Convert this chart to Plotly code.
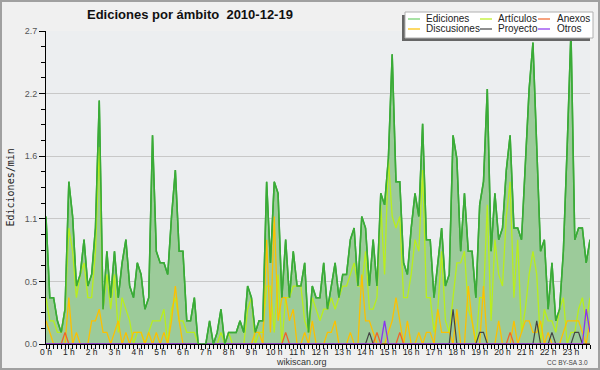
import plotly.graph_objects as go

# ---- data: edits per minute, 10-minute buckets (00:00 .. 23:50) ----
minutos = list(range(0, 1440, 10))

ediciones = [
    1.1, 0.4, 0.4, 0.2, 0.1, 0.3, 1.4, 1.1, 0.5, 0.6, 0.9, 0.5,
    0.6, 1.0, 2.1, 0.3, 0.8, 0.4, 0.8, 0.4, 0.7, 0.9, 0.5, 0.4,
    0.7, 0.6, 0.3, 0.4, 1.8, 0.8, 0.7, 0.7, 0.6, 1.1, 1.5, 0.8,
    0.8, 0.2, 0.2, 0.4, 0.0, 0.0, 0.0, 0.2, 0.0, 0.1, 0.3, 0.0,
    0.1, 0.1, 0.1, 0.2, 0.1, 0.5, 0.4, 0.1, 0.2, 0.2, 1.4, 0.7,
    1.4, 1.3, 0.4, 0.9, 0.4, 0.8, 0.5, 0.5, 0.7, 0.1, 0.5, 0.4,
    0.4, 0.7, 0.3, 0.5, 0.7, 0.4, 0.6, 0.6, 0.9, 1.0, 0.5, 1.1,
    1.0, 0.5, 0.9, 0.5, 1.3, 1.2, 1.6, 2.5, 1.4, 1.4, 0.7, 0.6,
    1.0, 1.3, 1.1, 1.9, 0.9, 0.9, 0.4, 0.7, 1.0, 0.5, 0.6, 1.8,
    1.6, 0.8, 1.3, 0.8, 0.8, 0.4, 1.2, 1.4, 2.2, 0.8, 1.3, 0.9,
    1.0, 1.5, 1.8, 1.0, 1.0, 0.9, 1.6, 2.2, 2.6, 1.7, 0.8, 0.9,
    0.3, 0.7, 0.2, 0.3, 0.8, 1.7, 2.7, 0.9, 1.0, 1.0, 0.7, 0.9,
]

articulos = [
    0.4, 0.2, 0.2, 0.1, 0.1, 0.3, 1.0, 0.8, 0.4, 0.6, 0.7, 0.4,
    0.4, 0.8, 1.7, 0.3, 0.6, 0.3, 0.6, 0.1, 0.4, 0.3, 0.2, 0.0,
    0.1, 0.1, 0.0, 0.1, 0.2, 0.2, 0.2, 0.3, 0.0, 0.3, 0.4, 0.2,
    0.2, 0.1, 0.1, 0.1, 0.0, 0.0, 0.0, 0.0, 0.0, 0.0, 0.1, 0.0,
    0.1, 0.0, 0.0, 0.0, 0.0, 0.3, 0.4, 0.0, 0.1, 0.1, 0.5, 0.5,
    0.1, 0.6, 0.0, 0.4, 0.4, 0.5, 0.5, 0.5, 0.2, 0.1, 0.4, 0.3,
    0.2, 0.3, 0.3, 0.4, 0.3, 0.4, 0.5, 0.5, 0.6, 0.7, 0.5, 0.5,
    0.8, 0.3, 0.3, 0.4, 1.2, 0.6, 1.6, 1.1, 1.0, 1.1, 0.4, 0.4,
    0.6, 0.9, 0.8, 1.5, 0.4, 0.4, 0.1, 0.3, 0.8, 0.2, 0.1, 0.4,
    0.7, 0.7, 0.8, 0.3, 0.2, 0.0, 0.4, 0.4, 1.2, 0.2, 0.9, 0.6,
    0.5, 1.1, 1.4, 0.4, 0.9, 0.1, 0.3, 0.6, 0.8, 0.6, 0.0, 0.3,
    0.2, 0.2, 0.1, 0.3, 0.4, 0.0, 0.1, 0.1, 0.3, 0.4, 0.2, 0.4,
]

discusiones = [
    0.2, 0.1, 0.0, 0.0, 0.0, 0.0, 0.4, 0.0, 0.1, 0.0, 0.0, 0.0,
    0.2, 0.2, 0.3, 0.1, 0.1, 0.0, 0.1, 0.2, 0.0, 0.1, 0.0, 0.1,
    0.1, 0.1, 0.0, 0.1, 0.0, 0.1, 0.0, 0.1, 0.0, 0.2, 0.5, 0.2,
    0.0, 0.0, 0.0, 0.0, 0.0, 0.0, 0.0, 0.0, 0.0, 0.0, 0.0, 0.0,
    0.0, 0.0, 0.0, 0.0, 0.0, 0.0, 0.0, 0.1, 0.1, 0.0, 0.9, 0.1,
    1.1, 0.2, 0.4, 0.4, 0.2, 0.3, 0.0, 0.0, 0.1, 0.0, 0.2, 0.0,
    0.0, 0.0, 0.1, 0.1, 0.2, 0.0, 0.0, 0.0, 0.1, 0.0, 0.0, 0.6,
    0.2, 0.2, 0.1, 0.0, 0.0, 0.0, 0.1, 0.2, 0.4, 0.2, 0.0, 0.2,
    0.0, 0.0, 0.1, 0.0, 0.1, 0.1, 0.0, 0.3, 0.1, 0.1, 0.1, 0.0,
    0.3, 0.0, 0.0, 0.5, 0.2, 0.0, 0.0, 0.5, 0.0, 0.0, 0.0, 0.2,
    0.0, 0.0, 0.0, 0.2, 0.0, 0.1, 0.2, 0.2, 0.1, 0.1, 0.2, 0.0,
    0.1, 0.0, 0.0, 0.0, 0.1, 0.2, 0.2, 0.2, 0.2, 0.1, 0.0, 0.2,
]

anexos = [
    0, 0, 0, 0, 0, 0.1, 0, 0, 0, 0, 0, 0,
    0, 0, 0, 0, 0, 0, 0, 0, 0, 0, 0, 0,
    0, 0, 0, 0, 0, 0, 0, 0, 0, 0, 0, 0,
    0, 0, 0, 0, 0, 0, 0, 0, 0, 0, 0, 0,
    0, 0, 0, 0, 0, 0, 0, 0, 0, 0, 0, 0,
    0, 0, 0, 0.1, 0, 0, 0, 0, 0, 0, 0, 0,
    0, 0, 0, 0, 0, 0, 0, 0, 0, 0, 0, 0,
    0, 0, 0, 0.1, 0, 0, 0, 0, 0, 0.1, 0, 0,
    0, 0, 0, 0, 0, 0, 0, 0, 0, 0, 0, 0,
    0, 0, 0, 0, 0, 0, 0, 0, 0, 0, 0, 0,
    0, 0, 0.1, 0, 0, 0, 0, 0, 0, 0, 0, 0,
    0, 0, 0, 0, 0, 0, 0, 0, 0, 0, 0, 0,
]

proyecto = [
    0, 0, 0, 0, 0, 0, 0, 0, 0, 0, 0, 0,
    0, 0, 0, 0, 0, 0, 0, 0, 0, 0, 0, 0,
    0, 0, 0, 0, 0, 0, 0, 0, 0, 0, 0, 0,
    0, 0, 0, 0, 0, 0, 0, 0, 0, 0, 0, 0,
    0, 0, 0, 0, 0, 0, 0, 0, 0, 0, 0, 0,
    0, 0, 0, 0, 0, 0, 0, 0, 0, 0, 0, 0,
    0, 0, 0, 0, 0, 0, 0, 0, 0, 0, 0, 0,
    0, 0.1, 0, 0, 0, 0, 0, 0, 0, 0, 0, 0,
    0, 0, 0, 0, 0, 0, 0, 0, 0, 0, 0, 0.3,
    0, 0, 0, 0, 0, 0, 0.1, 0.1, 0, 0, 0, 0,
    0, 0, 0, 0, 0, 0, 0, 0, 0, 0.2, 0, 0,
    0, 0.1, 0, 0, 0, 0, 0, 0.1, 0.1, 0, 0, 0,
]

otros = [
    0, 0, 0, 0, 0, 0, 0, 0, 0, 0, 0, 0,
    0, 0, 0, 0, 0, 0, 0, 0, 0, 0, 0, 0,
    0, 0, 0, 0, 0, 0, 0, 0, 0, 0, 0, 0,
    0, 0, 0, 0, 0, 0, 0, 0, 0, 0, 0, 0,
    0, 0, 0, 0, 0, 0, 0, 0, 0, 0, 0, 0,
    0, 0, 0, 0, 0, 0, 0, 0, 0, 0, 0, 0,
    0, 0, 0, 0, 0, 0, 0, 0, 0, 0, 0, 0,
    0, 0, 0, 0, 0, 0.2, 0, 0, 0, 0, 0, 0,
    0, 0, 0, 0, 0, 0, 0, 0, 0, 0, 0, 0,
    0, 0, 0, 0, 0, 0, 0, 0, 0, 0, 0, 0,
    0, 0, 0, 0, 0, 0, 0, 0, 0, 0, 0, 0,
    0, 0, 0, 0, 0, 0, 0, 0, 0, 0, 0.3, 0.1,
]

horas_vals = [h * 60 for h in range(24)]
horas_text = [f"{h} h" for h in range(24)]
y_vals = [0, 0.54, 1.08, 1.62, 2.16, 2.7]
y_text = ["0.0", "0.5", "1.1", "1.6", "2.2", "2.7"]

# name, values, colour, width, legend cell (column, row)
series = [
    ("Artículos", articulos, "#b9ee1c", 1.3, (1, 0)),
    ("Discusiones", discusiones, "#fcc000", 1.3, (0, 1)),
    ("Anexos", anexos, "#f0642a", 1.3, (2, 0)),
    ("Proyecto", proyecto, "#444444", 1.2, (1, 1)),
    ("Otros", otros, "#8a33ee", 1.3, (2, 1)),
]

FONT = "Liberation Sans"
W, H = 600, 370
L, R, T, B = 46, 10, 31, 26
PW, PH = W - L - R, H - T - B


def xp(px):
    return (px - L) / PW


def yp(py):
    return (H - B - py) / PH


fig = go.Figure()
fig.add_trace(go.Scatter(
    x=minutos, y=ediciones, mode="lines", name="Ediciones",
    line=dict(color="#3aab37", width=1.5), fill="tozeroy", fillcolor="#9ccb9a",
))
for name, vals, col, w, _cell in series:
    fig.add_trace(go.Scatter(x=minutos, y=vals, mode="lines", name=name,
                             line=dict(color=col, width=w)))
fig.add_trace(go.Scatter(x=minutos, y=ediciones, mode="lines", showlegend=False,
                         line=dict(color="#3aab37", width=1.5)))

fig.update_layout(
    width=W, height=H, margin=dict(l=L, r=R, t=T, b=B),
    paper_bgcolor="#f0f0f0", plot_bgcolor="#eceef0",
    showlegend=False, font=dict(family=FONT, size=9, color="#333"),
    xaxis=dict(
        range=[0, 1430], tickmode="array", tickvals=horas_vals, ticktext=horas_text,
        ticks="", showline=True, linecolor="black", linewidth=1, showgrid=False, zeroline=False,
        tickfont=dict(family=FONT, size=8.5, color="#222"), ticklabelstandoff=0,
    ),
    # tick marks every 10 minutes (no labels)
    xaxis2=dict(
        range=[0, 1430], overlaying="x", anchor="y", side="bottom",
        tickmode="linear", tick0=0, dtick=10, ticks="outside", ticklen=4,
        tickcolor="black", tickwidth=1, showticklabels=False,
        showline=False, showgrid=False, zeroline=False,
    ),
    yaxis=dict(
        range=[0, 2.7], tickmode="array", tickvals=y_vals, ticktext=y_text,
        ticks="outside", ticklen=6, tickcolor="black", tickwidth=1,
        showline=True, linecolor="black", linewidth=1,
        showgrid=True, gridcolor="#c8c8c8", gridwidth=1, zeroline=False,
        tickfont=dict(family=FONT, size=9, color="#555"),
        minor=dict(dtick=0.135, tick0=0, ticks="outside", ticklen=4, tickcolor="black", showgrid=False),
    ),
)
# invisible trace to activate the tick-only axis
fig.add_trace(go.Scatter(x=[0], y=[0], xaxis="x2", mode="markers",
                         marker=dict(opacity=0), showlegend=False, hoverinfo="skip"))

shapes = []
annotations = []
# outer border
shapes.append(dict(type="rect", xref="paper", yref="paper",
                   x0=xp(1), x1=xp(599), y0=yp(1), y1=yp(369),
                   line=dict(color="#a0a0a0", width=2), layer="above"))
# legend box with shadow
shapes.append(dict(type="rect", xref="paper", yref="paper",
                   x0=xp(402), x1=xp(590), y0=yp(15), y1=yp(41),
                   fillcolor="#666666", line=dict(width=0), layer="above"))
shapes.append(dict(type="rect", xref="paper", yref="paper",
                   x0=xp(405), x1=xp(593), y0=yp(12), y1=yp(38),
                   fillcolor="#ffffff", line=dict(color="#b0b0b0", width=1), layer="above"))

leg_items = [("Ediciones", "#6fcf6a", (0, 0))] + [(n, c, cell) for (n, _v, c, _w, cell) in series]
col_line_x = [408, 480, 538]
col_text_x = [424, 496, 555]
row_y = [19, 29]
for name, col, (ci, ri) in leg_items:
    shapes.append(dict(type="line", xref="paper", yref="paper",
                       x0=xp(col_line_x[ci]), x1=xp(col_line_x[ci] + 12),
                       y0=yp(row_y[ri]), y1=yp(row_y[ri]),
                       line=dict(color=col, width=1.2), layer="above"))
    annotations.append(dict(xref="paper", yref="paper", x=xp(col_text_x[ci]), y=yp(row_y[ri]),
                            text=name, showarrow=False, xanchor="left", yanchor="middle",
                            font=dict(family=FONT, size=10, color="#222")))

annotations += [
    dict(xref="paper", yref="paper", x=xp(85), y=yp(14), text="<b>Ediciones por ámbito  2010-12-19</b>",
         showarrow=False, xanchor="left", yanchor="middle",
         font=dict(family=FONT, size=13, color="#111")),
    dict(xref="paper", yref="paper", x=xp(9.5), y=yp(188), text="Ediciones/min", textangle=-90,
         showarrow=False, xanchor="center", yanchor="middle",
         font=dict(family="DejaVu Sans Mono", size=10, color="#222")),
    dict(xref="paper", yref="paper", x=xp(301), y=yp(362), text="wikiscan.org",
         showarrow=False, xanchor="center", yanchor="middle",
         font=dict(family=FONT, size=9, color="#333")),
    dict(xref="paper", yref="paper", x=xp(590), y=yp(362), text="CC BY-SA 3.0",
         showarrow=False, xanchor="right", yanchor="middle",
         font=dict(family=FONT, size=6.5, color="#444")),
]

fig.update_layout(shapes=shapes, annotations=annotations)
fig.write_html("out.html", config={"displayModeBar": False},
               post_script="document.body.style.margin='0';document.body.style.overflow='hidden';")
